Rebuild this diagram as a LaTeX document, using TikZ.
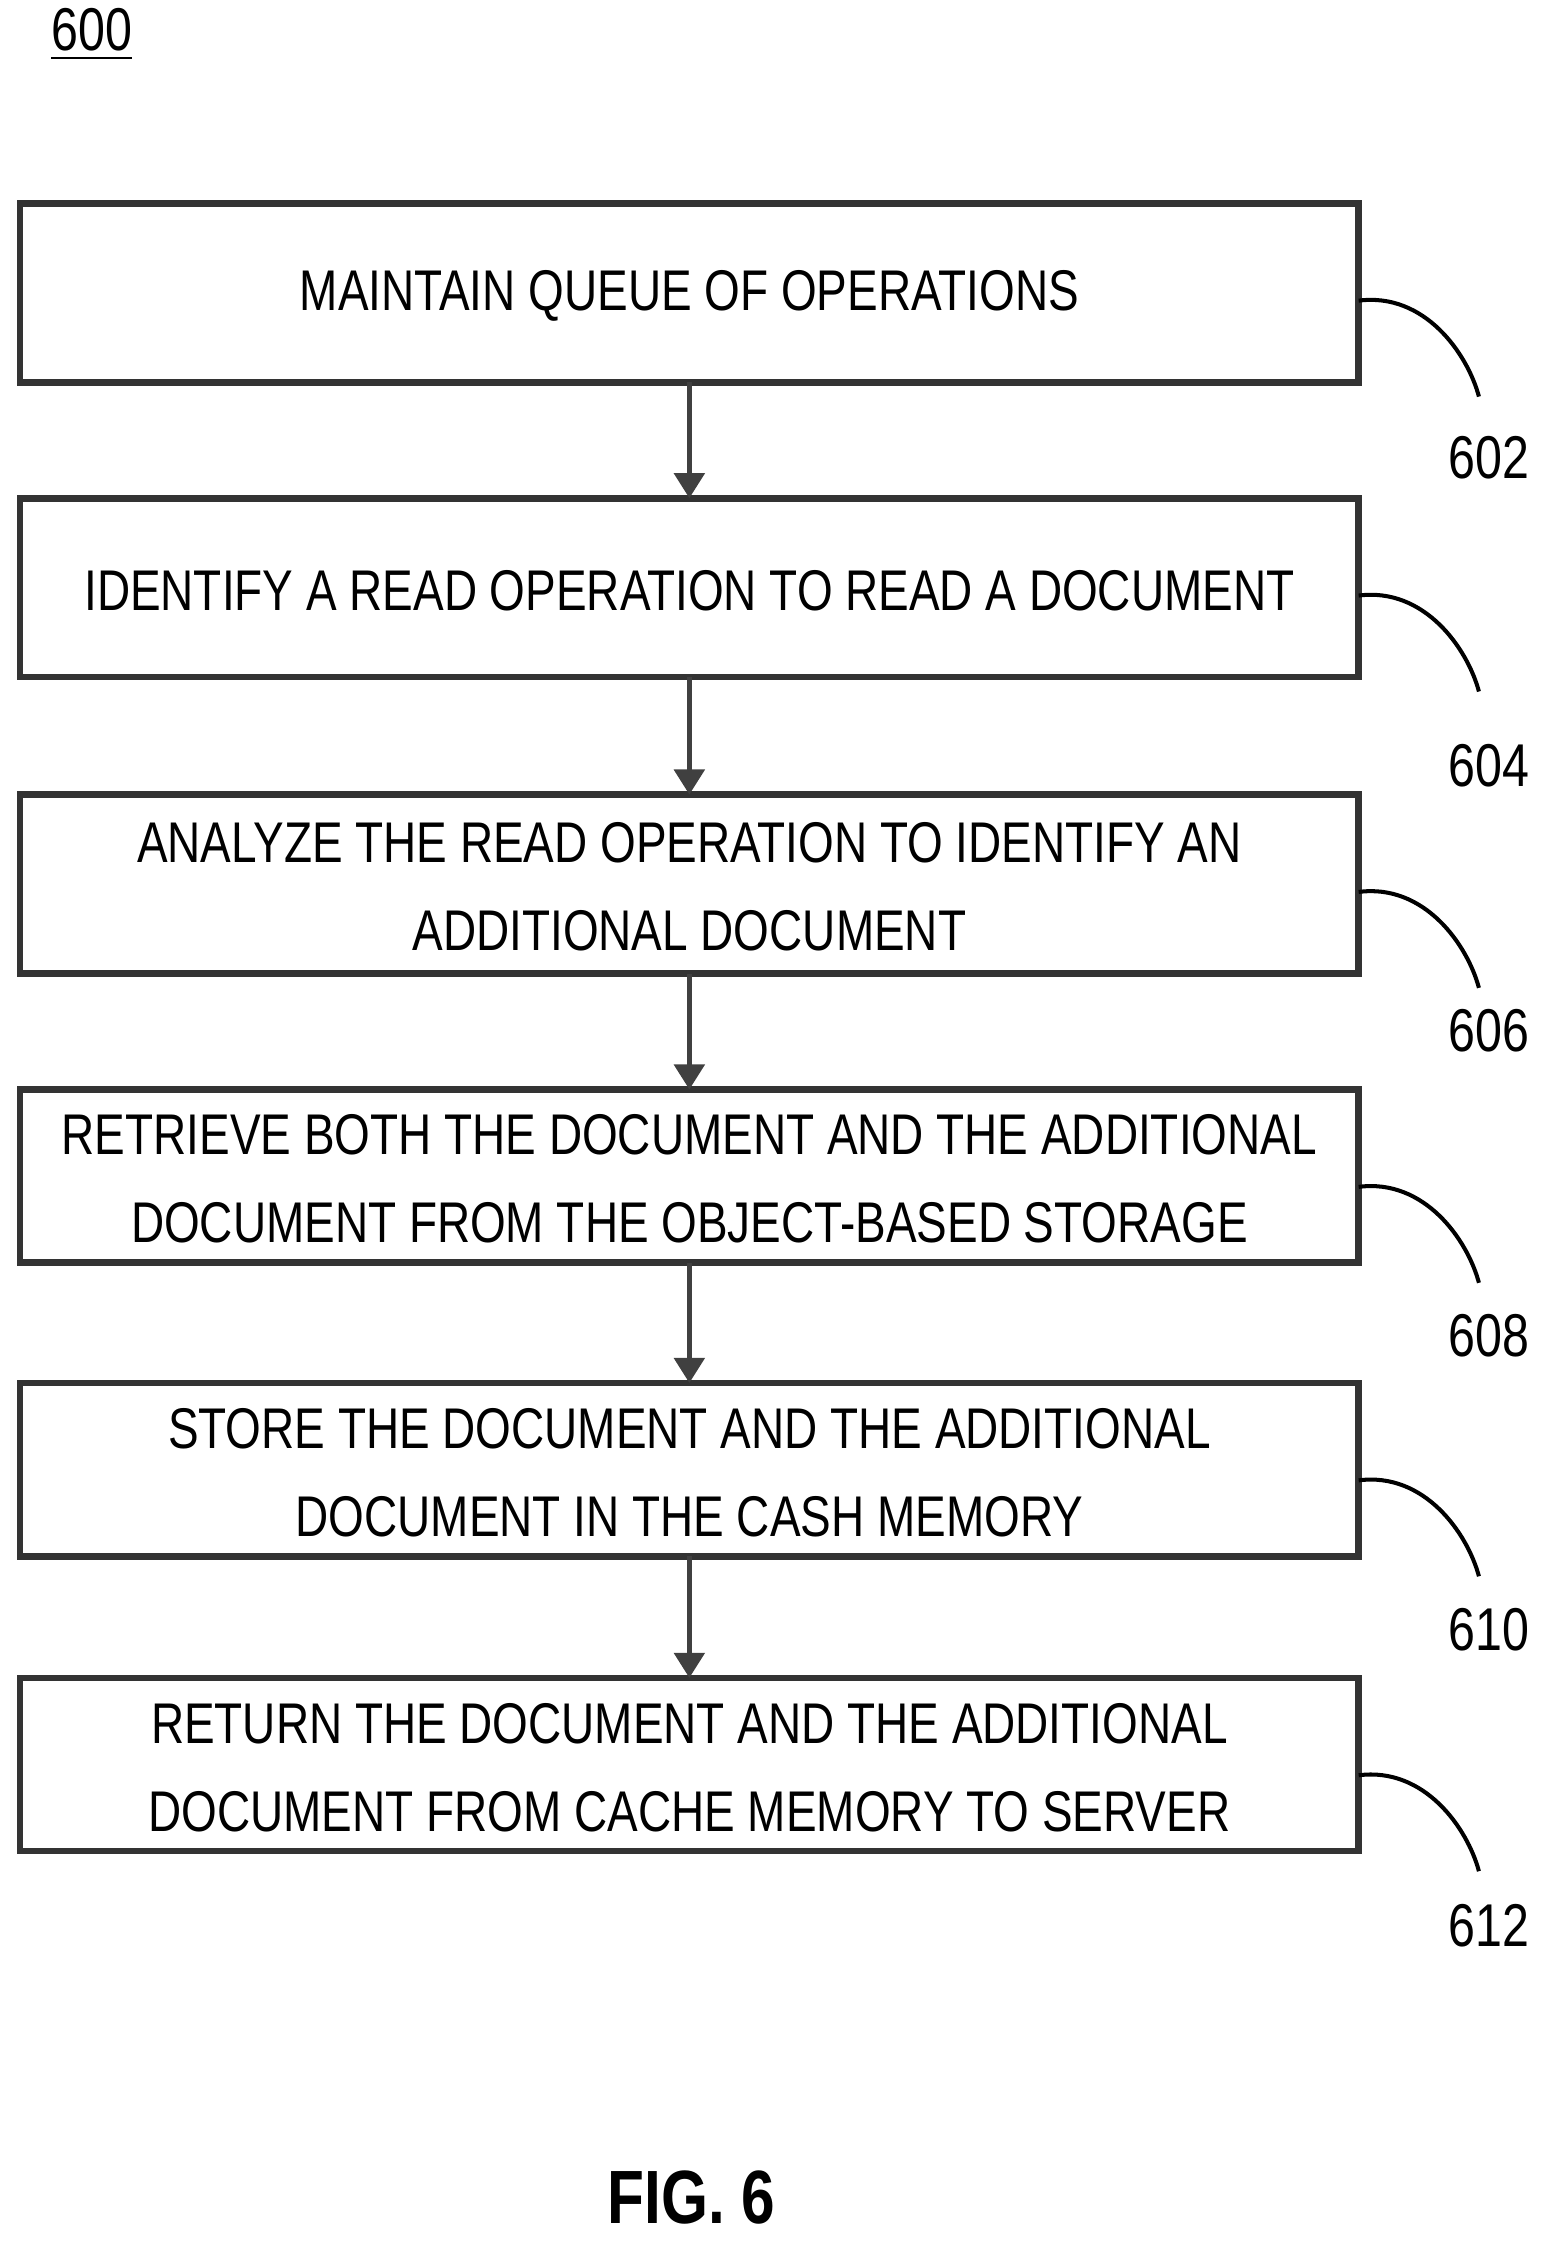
\documentclass[tikz,border=0pt]{standalone}
\usepackage{fontspec}
\setmainfont{Liberation Sans}[FakeStretch=0.80]
\usetikzlibrary{arrows.meta}
\begin{document}
\begin{tikzpicture}[x=0.01cm,y=-0.01cm,
  arr/.style={-{Triangle[length=5pt,width=6pt]},line width=1pt,black!75},
  lead/.style={line width=0.8pt},
  lab/.style={font=\fontsize{12}{14}\selectfont}]
\useasboundingbox (0,0) rectangle (1080,1566);
\node[font=\fontsize{12}{14}\selectfont] (n600) at (64,24) {\underline{600}};
\foreach \n/\t/\b/\txt in {
 a/142/267/{MAINTAIN QUEUE OF OPERATIONS},
 b/348/473/{IDENTIFY A READ OPERATION TO READ A DOCUMENT},
 c/555/680/{ANALYZE THE READ OPERATION TO IDENTIFY AN\\ADDITIONAL DOCUMENT},
 d/761/882/{RETRIEVE BOTH THE DOCUMENT AND THE ADDITIONAL\\DOCUMENT FROM THE OBJECT-BASED STORAGE},
 e/966/1087/{STORE THE DOCUMENT AND THE ADDITIONAL\\DOCUMENT IN THE CASH MEMORY},
 f/1172/1293/{RETURN THE DOCUMENT AND THE ADDITIONAL\\DOCUMENT FROM CACHE MEMORY TO SERVER}}
{
 \draw[line width=1.3pt,black!80] (14,\t) rectangle (949,\b);
 \coordinate (\n) at (481.5,{(\t+\b)/2+2});
 \node[font=\fontsize{11.4}{17.5}\selectfont,align=center] (\n t) at (\n) {\txt};
 \coordinate (\n top) at (481.5,\t);
 \coordinate (\n bot) at (481.5,\b);
 \coordinate (\n r) at (949,{\t+68});
 \coordinate (\n e) at (1033,{\t+135});
 \draw[lead] (\n r) .. controls (995,{\t+62}) and (1025,{\t+105}) .. (\n e);
}
\foreach \n/\y/\l in {a/320/602,b/535/604,c/720/606,d/933/608,e/1138/610,f/1345/612}
  \node[lab] (l\l) at (1040,\y) {\l};
\foreach \p/\q in {a/b,b/c,c/d,d/e,e/f}
  \draw[arr] (\p bot) -- (\q top);
\node[font=\bfseries\fontsize{15}{18}\selectfont] (fig) at (483,1535) {FIG. 6};
\end{tikzpicture}
\end{document}
